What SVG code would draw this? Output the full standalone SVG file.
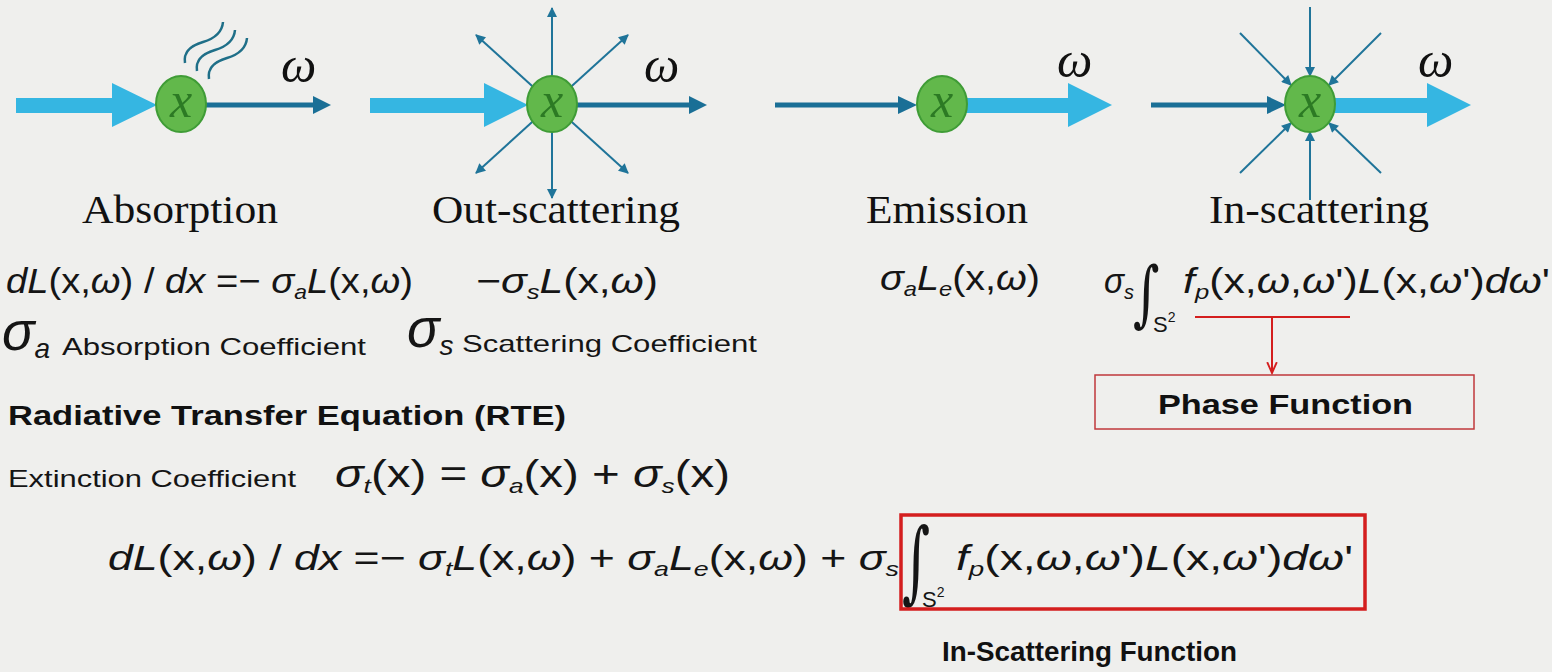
<svg xmlns="http://www.w3.org/2000/svg" width="1552" height="672" viewBox="0 0 1552 672">
<defs>
<style>
.bg{fill:#efefed}
.thick{fill:#35b6e2}
.dark{stroke:#1a6f96;stroke-width:5;fill:none}
.head{fill:#1a6f96}
.ray{stroke:#1f7499;stroke-width:2;fill:none}
.node{fill:#62b84b;stroke:#3f9c36;stroke-width:2}
.nx{font-family:"Liberation Serif",serif;font-style:italic;font-size:50px;fill:#2c7a24;text-anchor:middle}
.om{font-family:"Liberation Serif",serif;font-style:italic;font-size:50px;fill:#111}
.lab{font-family:"Liberation Serif",serif;font-size:40px;fill:#111}
.m{font-family:"Liberation Sans Narrow","Liberation Sans",sans-serif;font-size:35px;fill:#151515}
.it{font-style:italic}
.sub{font-size:21px}
.int{font-family:"DejaVu Serif",serif;font-size:60px;fill:#151515}
.sup{font-family:"Liberation Sans Narrow","Liberation Sans",sans-serif;font-size:22px;fill:#151515}
.txt{font-family:"Liberation Sans",sans-serif;font-size:24px;fill:#151515}
.bold{font-family:"Liberation Sans",sans-serif;font-weight:bold;font-size:28px;fill:#111}
.wave{stroke:#1f6f88;stroke-width:2.5;fill:none}
.red{stroke:#d41e1e;stroke-width:2;fill:none}
</style>
<marker id="ahs" viewBox="0 0 10 10" refX="9" refY="5" markerWidth="11" markerHeight="10" markerUnits="userSpaceOnUse" orient="auto"><path d="M0,0 L10,5 L0,10 Z" fill="#1f7499"/></marker>
<marker id="ahr" viewBox="0 0 10 10" refX="9" refY="5" markerWidth="13" markerHeight="12" markerUnits="userSpaceOnUse" orient="auto"><path d="M0,1 L9,5 L0,9" fill="none" stroke="#d41e1e" stroke-width="1.6"/></marker>
</defs>
<rect class="bg" x="0" y="0" width="1552" height="672"/>

<g id="connectors">
  <!-- panel 1 -->
  <polygon class="thick" points="16,98 112,98 112,83 157,105 112,127 112,113 16,113"/>
  <line class="dark" x1="205" y1="105" x2="316" y2="105"/>
  <polygon class="head" points="313,96 331,105 313,114"/>
  <!-- panel 2 -->
  <polygon class="thick" points="370,98 484,98 484,83 528,105 484,127 484,113 370,113"/>
  <line class="dark" x1="576" y1="105" x2="692" y2="105"/>
  <polygon class="head" points="689,96 707,105 689,114"/>
  <line class="ray" x1="552" y1="104" x2="552" y2="8" marker-end="url(#ahs)"/>
  <line class="ray" x1="552" y1="104" x2="552" y2="198" marker-end="url(#ahs)"/>
  <line class="ray" x1="552" y1="104" x2="476" y2="35" marker-end="url(#ahs)"/>
  <line class="ray" x1="552" y1="104" x2="628" y2="35" marker-end="url(#ahs)"/>
  <line class="ray" x1="552" y1="104" x2="476" y2="173" marker-end="url(#ahs)"/>
  <line class="ray" x1="552" y1="104" x2="628" y2="173" marker-end="url(#ahs)"/>
  <!-- panel 3 -->
  <line class="dark" x1="775" y1="105" x2="901" y2="105"/>
  <polygon class="head" points="898,96 917,105 898,114"/>
  <polygon class="thick" points="960,98 1068,98 1068,83 1112,105 1068,127 1068,113 960,113"/>
  <!-- panel 4 -->
  <line class="dark" x1="1151" y1="105" x2="1270" y2="105"/>
  <polygon class="head" points="1267,96 1286,105 1267,114"/>
  <polygon class="thick" points="1328,98 1427,98 1427,83 1471,105 1427,127 1427,113 1328,113"/>
  <line class="ray" x1="1310" y1="7" x2="1310" y2="76" marker-end="url(#ahs)"/>
  <line class="ray" x1="1310" y1="200" x2="1310" y2="132" marker-end="url(#ahs)"/>
  <line class="ray" x1="1240" y1="33" x2="1291" y2="85" marker-end="url(#ahs)"/>
  <line class="ray" x1="1381" y1="33" x2="1329" y2="85" marker-end="url(#ahs)"/>
  <line class="ray" x1="1240" y1="173" x2="1291" y2="123" marker-end="url(#ahs)"/>
  <line class="ray" x1="1381" y1="173" x2="1329" y2="123" marker-end="url(#ahs)"/>
  <!-- phase function pointer -->
  <line class="red" x1="1195" y1="317" x2="1350" y2="317"/>
  <line class="red" x1="1272" y1="317" x2="1272" y2="373" marker-end="url(#ahr)"/>
</g>

<g id="absorption">
  <path class="wave" d="M185,63 C183,50 193,45 203,42 S222,34 223,22"/>
  <path class="wave" d="M197,71 C195,58 205,53 215,50 S234,42 235,30"/>
  <path class="wave" d="M209,79 C207,66 217,61 227,58 S246,50 247,38"/>
  <ellipse class="node" cx="181" cy="104" rx="25" ry="28"/>
  <text class="nx" x="181" y="117">x</text>
  <text class="om" x="281" y="82">ω</text>
  <text class="lab" x="82" y="223" textLength="196" lengthAdjust="spacingAndGlyphs">Absorption</text>
</g>

<g id="out-scattering">
  <ellipse class="node" cx="552" cy="104" rx="25" ry="28"/>
  <text class="nx" x="552" y="117">x</text>
  <text class="om" x="644" y="82">ω</text>
  <text class="lab" x="432" y="223" textLength="248" lengthAdjust="spacingAndGlyphs">Out-scattering</text>
</g>

<g id="emission">
  <ellipse class="node" cx="942" cy="104" rx="25" ry="28"/>
  <text class="nx" x="942" y="117">x</text>
  <text class="om" x="1057" y="77">ω</text>
  <text class="lab" x="866" y="223" textLength="162" lengthAdjust="spacingAndGlyphs">Emission</text>
</g>

<g id="in-scattering">
  <ellipse class="node" cx="1310" cy="104" rx="25" ry="28"/>
  <text class="nx" x="1310" y="117">x</text>
  <text class="om" x="1418" y="77">ω</text>
  <text class="lab" x="1209" y="223" textLength="220" lengthAdjust="spacingAndGlyphs">In-scattering</text>
</g>

<g id="row-equations">
  <text class="m" x="6" y="293" textLength="407" lengthAdjust="spacingAndGlyphs"><tspan class="it">dL</tspan>(x,<tspan class="it">ω</tspan>) / <tspan class="it">dx</tspan> =− <tspan class="it">σ</tspan><tspan class="sub it" dy="6">a</tspan><tspan class="it" dy="-6">L</tspan>(x,<tspan class="it">ω</tspan>)</text>
  <text class="m" x="476" y="293" textLength="182" lengthAdjust="spacingAndGlyphs">−<tspan class="it">σ</tspan><tspan class="sub it" dy="6">s</tspan><tspan class="it" dy="-6">L</tspan>(x,<tspan class="it">ω</tspan>)</text>
  <text class="m" x="880" y="290" textLength="160" lengthAdjust="spacingAndGlyphs"><tspan class="it">σ</tspan><tspan class="sub it" dy="6">a</tspan><tspan class="it" dy="-6">L</tspan><tspan class="sub it" dy="6">e</tspan><tspan dy="-6">(x,</tspan><tspan class="it">ω</tspan>)</text>
  <text class="m" x="1104" y="293" textLength="30" lengthAdjust="spacingAndGlyphs"><tspan class="it">σ</tspan><tspan class="sub it" dy="6">s</tspan></text>
  <text class="int" transform="translate(1133,318) scale(0.85,1.2)">∫</text>
  <text class="sup" x="1153" y="332">S<tspan style="font-size:14px" dy="-10">2</tspan></text>
  <text class="m" x="1183" y="293" textLength="367" lengthAdjust="spacingAndGlyphs"><tspan class="it">f</tspan><tspan class="sub it" dy="6">p</tspan><tspan dy="-6">(x,</tspan><tspan class="it">ω</tspan>,<tspan class="it">ω</tspan>')<tspan class="it">L</tspan>(x,<tspan class="it">ω</tspan>')<tspan class="it">dω</tspan>'</text>
</g>

<g id="coefficients">
  <text class="m" x="2" y="350" style="font-size:54px"><tspan class="it">σ</tspan><tspan class="it" style="font-size:28px" dy="8">a</tspan></text>
  <text class="txt" x="62" y="355" textLength="304" lengthAdjust="spacingAndGlyphs">Absorption Coefficient</text>
  <text class="m" x="407" y="347" style="font-size:54px"><tspan class="it">σ</tspan><tspan class="it" style="font-size:28px" dy="8">s</tspan></text>
  <text class="txt" x="462" y="352" textLength="295" lengthAdjust="spacingAndGlyphs">Scattering Coefficient</text>
</g>

<g id="phase-function">
  <rect x="1095" y="375" width="379" height="54" fill="none" stroke="#c0393b" stroke-width="1.5"/>
  <text class="bold" x="1158" y="414" textLength="255" lengthAdjust="spacingAndGlyphs">Phase Function</text>
</g>

<g id="rte">
  <text class="bold" x="8" y="425" style="font-size:27px" textLength="558" lengthAdjust="spacingAndGlyphs">Radiative Transfer Equation (RTE)</text>
  <text class="txt" x="8" y="487" textLength="288" lengthAdjust="spacingAndGlyphs">Extinction Coefficient</text>
  <text class="m" x="335" y="487" style="font-size:38px" textLength="395" lengthAdjust="spacingAndGlyphs"><tspan class="it">σ</tspan><tspan class="sub it" dy="6">t</tspan><tspan dy="-6">(x) = </tspan><tspan class="it">σ</tspan><tspan class="sub it" dy="6">a</tspan><tspan dy="-6">(x) + </tspan><tspan class="it">σ</tspan><tspan class="sub it" dy="6">s</tspan><tspan dy="-6">(x)</tspan></text>
</g>

<g id="full-rte">
  <text class="m" x="108" y="570" textLength="791" lengthAdjust="spacingAndGlyphs"><tspan class="it">dL</tspan>(x,<tspan class="it">ω</tspan>) / <tspan class="it">dx</tspan> =− <tspan class="it">σ</tspan><tspan class="sub it" dy="6">t</tspan><tspan class="it" dy="-6">L</tspan>(x,<tspan class="it">ω</tspan>) + <tspan class="it">σ</tspan><tspan class="sub it" dy="6">a</tspan><tspan class="it" dy="-6">L</tspan><tspan class="sub it" dy="6">e</tspan><tspan dy="-6">(x,</tspan><tspan class="it">ω</tspan>) + <tspan class="it">σ</tspan><tspan class="sub it" dy="6">s</tspan></text>
  <text class="int" transform="translate(902,592) scale(0.9,1.5)">∫</text>
  <text class="sup" x="922" y="607">S<tspan style="font-size:14px" dy="-10">2</tspan></text>
  <text class="m" x="956" y="570" textLength="397" lengthAdjust="spacingAndGlyphs"><tspan class="it">f</tspan><tspan class="sub it" dy="6">p</tspan><tspan dy="-6">(x,</tspan><tspan class="it">ω</tspan>,<tspan class="it">ω</tspan>')<tspan class="it">L</tspan>(x,<tspan class="it">ω</tspan>')<tspan class="it">dω</tspan>'</text>
  <rect x="901" y="515" width="464" height="94" fill="none" stroke="#d41e1e" stroke-width="3.5"/>
  <text class="bold" x="942" y="661" textLength="295" lengthAdjust="spacingAndGlyphs">In-Scattering Function</text>
</g>
</svg>
